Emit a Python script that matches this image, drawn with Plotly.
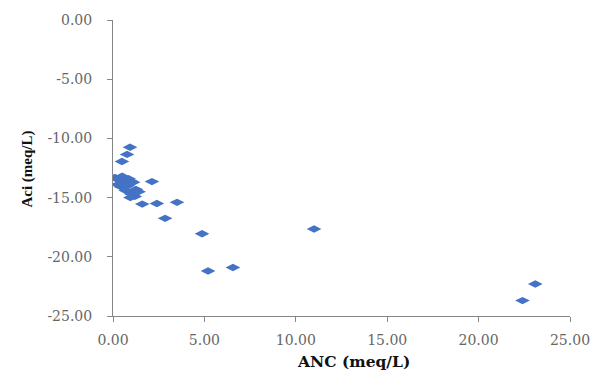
import plotly.graph_objects as go

anc = [0.93, 0.77, 0.49,
       0.10, 0.30, 0.50, 0.25, 0.60, 0.85, 0.95, 1.10, 0.45, 0.70, 0.80, 1.00, 1.25, 1.40, 1.20, 0.95,
       2.13, 1.60, 2.40, 3.50, 2.85, 4.87, 5.20, 6.56, 11.00, 23.10, 22.40]
aci = [-10.75, -11.35, -11.95,
       -13.30, -13.50, -13.20, -13.90, -13.80, -13.40, -13.60, -13.70, -14.10, -14.40, -14.00, -14.70, -14.30, -14.50, -14.90, -15.00,
       -13.65, -15.55, -15.50, -15.40, -16.75, -18.05, -21.20, -20.90, -17.65, -22.30, -23.70]

x_ticks = [0, 5, 10, 15, 20, 25]
x_labels = ["0.00", "5.00", "10.00", "15.00", "20.00", "25.00"]
y_ticks = [0, -5, -10, -15, -20, -25]
y_labels = ["0.00", "-5.00", "-10.00", "-15.00", "-20.00", "-25.00"]

x_title = "ANC (meq/L)"
y_title = "Aci (meq/L)"

fig = go.Figure(go.Scatter(
    x=anc, y=aci, mode="markers",
    marker=dict(symbol="diamond-wide", size=10.5, color="#4472C4", line=dict(width=0)),
))

tickfont = dict(family="DejaVu Serif", size=14, color="#666666")
fig.update_layout(
    width=608, height=376,
    margin=dict(l=113, r=38, t=15, b=60),
    paper_bgcolor="white", plot_bgcolor="white",
    showlegend=False,
    font=dict(family="DejaVu Serif"),
    annotations=[
        dict(text="<b>" + x_title + "</b>", xref="paper", yref="paper", x=0.527, y=-0.153,
             xanchor="center", yanchor="middle", showarrow=False,
             font=dict(family="DejaVu Serif", size=15.5, color="#111111")),
        dict(text="<b>" + y_title + "</b>", xref="paper", yref="paper", x=-0.188, y=0.495,
             xanchor="center", yanchor="middle", showarrow=False, textangle=-90,
             font=dict(family="Liberation Serif", size=15, color="#111111")),
    ],
)
fig.update_xaxes(
    range=[0, 25], tickvals=x_ticks, ticktext=x_labels, showgrid=False, zeroline=False,
    showline=True, linecolor="#868686", linewidth=1,
    ticks="outside", ticklen=5, tickcolor="#868686",
    ticklabelstandoff=6,
    tickfont=tickfont,
)
fig.update_yaxes(
    range=[-25, 0], tickvals=y_ticks, ticktext=y_labels, showgrid=False, zeroline=False,
    showline=True, linecolor="#868686", linewidth=1,
    ticks="outside", ticklen=5, tickcolor="#868686",
    ticklabelstandoff=12,
    tickfont=tickfont,
)
fig.write_html("out.html")
